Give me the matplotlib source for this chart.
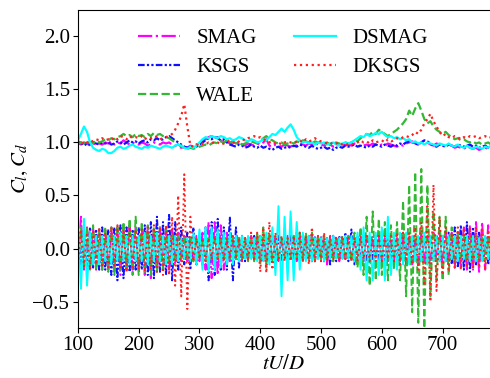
import numpy as np
import matplotlib
matplotlib.use("Agg")
import matplotlib.pyplot as plt

plt.rcParams["font.family"] = ["Liberation Serif", "DejaVu Serif"]
plt.rcParams["mathtext.fontset"] = "stix"

# sample times (tU/D), every 5 units
t = np.arange(100, 781, 5)

models = ["SMAG", "KSGS", "WALE", "DSMAG", "DKSGS"]

# drag coefficient Cd
cd_smag = [
    1.0, 0.98, 1.0, 0.99, 0.97, 0.98, 1.0, 0.99, 0.98, 1.0,
    0.99, 1.01, 0.98, 1.0, 0.99, 1.02, 1.0, 0.98, 1.0, 0.99,
    0.98, 1.0, 0.99, 0.97, 0.98, 1.0, 0.99, 0.98, 1.0, 0.99,
    1.0, 0.98, 0.97, 0.96, 0.95, 0.96, 0.95, 0.97, 0.96, 0.98,
    0.99, 1.01, 1.03, 1.05, 1.06, 1.04, 1.05, 1.02, 1.0, 1.01,
    0.99, 0.98, 0.99, 1.0, 0.98, 0.97, 0.99, 0.98, 0.97, 0.99,
    0.98, 1.0, 1.03, 0.97, 0.96, 0.98, 0.97, 0.96, 0.98, 0.97,
    0.96, 0.98, 0.97, 0.99, 0.98, 0.97, 0.99, 0.98, 0.97, 0.99,
    0.98, 0.97, 0.99, 0.98, 0.96, 0.97, 0.98, 0.99, 0.97, 0.98,
    0.97, 0.99, 0.98, 0.96, 0.97, 0.98, 0.97, 0.99, 0.98, 0.97,
    0.98, 0.97, 0.99, 0.98, 0.97, 0.96, 0.98, 0.97, 0.99, 1.0,
    1.01, 0.99, 0.98, 1.0, 1.02, 1.0, 0.98, 0.97, 0.99, 0.98,
    0.97, 0.96, 0.98, 0.97, 0.95, 0.96, 0.95, 0.94, 0.96, 0.95,
    0.94, 0.95, 0.93, 0.94, 0.95, 0.94, 0.95,
]
cd_ksgs = [
    0.98, 1.0, 0.97, 0.99, 0.98, 1.0, 0.99, 0.98, 1.0, 0.99,
    1.0, 0.98, 0.99, 1.01, 1.0, 0.98, 1.0, 1.02, 1.0, 1.01,
    0.99, 1.01, 1.02, 1.0, 1.03, 1.02, 1.04, 1.02, 1.03, 1.05,
    1.06, 1.04, 1.02, 1.0, 0.98, 0.96, 0.95, 0.96, 0.95, 0.96,
    0.98, 1.0, 1.02, 1.04, 1.03, 1.05, 1.04, 1.02, 1.03, 1.0,
    0.98, 0.97, 0.96, 0.98, 0.97, 0.95, 0.96, 0.98, 0.96, 0.95,
    0.97, 0.95, 0.96, 0.94, 0.93, 0.95, 0.96, 0.94, 0.95, 0.96,
    0.95, 0.97, 0.96, 0.98, 0.97, 0.96, 0.95, 0.97, 0.95, 0.94,
    0.95, 0.96, 0.94, 0.95, 0.93, 0.95, 0.96, 0.95, 0.97, 0.96,
    0.97, 0.98, 0.96, 0.97, 0.96, 0.95, 0.97, 0.96, 0.98, 0.97,
    0.96, 0.98, 0.97, 0.96, 0.98, 0.97, 0.99, 0.98, 1.0, 1.01,
    1.0, 0.99, 0.98, 1.0, 1.02, 1.01, 0.99, 0.97, 0.96, 0.98,
    0.97, 0.96, 0.98, 0.97, 0.96, 0.98, 0.97, 0.96, 0.97, 0.98,
    0.96, 0.97, 0.95, 0.96, 0.97, 0.95, 0.96,
]
cd_wale = [
    0.98, 1.0, 0.99, 1.01, 1.0, 0.99, 1.02, 1.0, 1.01, 1.03,
    1.02, 1.04, 1.03, 1.05, 1.06, 1.08, 1.06, 1.07, 1.05, 1.08,
    1.06, 1.07, 1.05, 1.08, 1.06, 1.09, 1.07, 1.08, 1.06, 1.05,
    1.04, 1.02, 1.0, 0.98, 0.96, 0.95, 0.94, 0.95, 0.94, 0.95,
    0.96, 0.97, 0.98, 0.97, 0.99, 1.0, 0.99, 1.01, 1.0, 1.02,
    1.0, 1.01, 0.99, 1.0, 0.98, 0.99, 1.0, 1.01, 1.0, 0.99,
    1.01, 1.04, 1.06, 1.03, 1.02, 1.0, 0.99, 1.0, 0.98, 0.99,
    1.0, 0.99, 1.01, 1.0, 1.02, 1.01, 1.0, 0.99, 1.01, 1.0,
    1.0, 0.99, 1.0, 0.98, 0.99, 1.0, 0.99, 0.98, 1.0, 0.99,
    1.0, 1.02, 1.01, 1.04, 1.06, 1.08, 1.07, 1.1, 1.08, 1.12,
    1.1, 1.08, 1.06, 1.08, 1.1, 1.12, 1.15, 1.18, 1.22, 1.3,
    1.25, 1.32, 1.37, 1.3, 1.22, 1.18, 1.2, 1.15, 1.12, 1.1,
    1.08, 1.1, 1.07, 1.05, 1.03, 1.04, 1.02, 1.03, 1.01, 1.0,
    1.01, 0.99, 1.0, 0.98, 0.99, 1.0, 0.98,
]
cd_dsmag = [
    1.02, 1.08, 1.15, 1.1, 1.0, 0.95, 0.93, 0.92, 0.94, 0.93,
    0.9, 0.9, 0.92, 0.95, 0.96, 0.94, 0.95, 0.97, 0.98, 0.96,
    0.95, 0.94, 0.96, 0.95, 0.97, 0.96, 0.95, 0.94, 0.96, 0.97,
    0.96, 0.95, 0.97, 0.98, 0.97, 0.95, 0.94, 0.96, 0.95, 0.97,
    1.0, 1.03, 1.05, 1.04, 1.06, 1.05, 1.04, 1.06, 1.05, 1.03,
    1.04, 1.02, 1.03, 1.05, 1.04, 1.02, 1.01, 1.03, 1.02, 1.0,
    1.01, 1.03, 1.02, 1.05, 1.08, 1.07, 1.1, 1.13, 1.1, 1.14,
    1.17, 1.12, 1.05, 1.02, 1.0, 1.01, 0.99, 1.0, 0.98, 1.0,
    0.99, 1.0, 0.98, 0.99, 1.0, 0.98, 0.97, 0.99, 1.0, 0.99,
    1.0, 1.02, 1.04, 1.06, 1.05, 1.08, 1.06, 1.07, 1.09, 1.08,
    1.1, 1.07, 1.05, 1.06, 1.04, 1.05, 1.03, 1.04, 1.02, 1.03,
    1.0, 1.01, 0.99, 1.0, 0.98, 1.0, 0.99, 0.98, 0.97, 0.99,
    0.98, 0.97, 0.99, 0.97, 0.96, 0.98, 0.96, 0.95, 0.97, 0.95,
    0.94, 0.96, 0.95, 0.94, 0.96, 0.95, 0.97,
]
cd_dksgs = [
    1.0, 1.02, 0.98, 1.0, 1.02, 1.01, 1.03, 1.02, 1.04, 1.02,
    1.03, 1.02, 1.05, 1.03, 1.06, 1.05, 1.03, 1.06, 1.04, 1.05,
    1.04, 1.06, 1.03, 1.05, 1.04, 1.06, 1.05, 1.03, 1.04, 1.05,
    1.06, 1.08, 1.12, 1.18, 1.25, 1.36, 1.15, 0.97, 0.96, 0.98,
    0.97, 0.99, 0.98, 1.0, 0.99, 1.01, 1.0, 0.98, 0.99, 1.0,
    1.02, 1.0, 0.99, 1.01, 1.03, 1.02, 1.04, 1.05, 1.06, 1.04,
    1.05, 1.03, 1.02, 1.0, 1.01, 0.99, 1.0, 0.98, 1.0, 1.01,
    1.0, 0.99, 1.01, 1.02, 1.0, 1.03, 1.01, 1.02, 1.04, 1.02,
    1.01, 1.0, 0.99, 1.0, 0.98, 0.99, 1.0, 0.98, 0.97, 0.99,
    0.98, 0.99, 1.0, 1.02, 1.0, 1.01, 0.99, 1.02, 1.0, 1.01,
    1.02, 1.0, 1.03, 1.01, 1.02, 1.04, 1.03, 1.05, 1.06, 1.05,
    1.07, 1.1, 1.08, 1.12, 1.18, 1.22, 1.27, 1.2, 1.15, 1.1,
    1.06, 1.08, 1.05, 1.04, 1.06, 1.05, 1.03, 1.05, 1.04, 1.06,
    1.05, 1.06, 1.04, 1.05, 1.06, 1.04, 1.05,
]

# lift coefficient Cl, successive peaks of the shedding oscillation
cl_smag = [
    -0.2, 0.3, -0.2, 0.2, -0.18, 0.2, -0.2, 0.18, -0.2, 0.18,
    -0.2, 0.2, -0.22, 0.2, -0.25, 0.2, -0.2, 0.22, -0.2, 0.2,
    -0.22, 0.2, -0.25, 0.22, -0.28, 0.2, -0.22, 0.2, -0.2, 0.2,
    -0.2, 0.18, -0.15, 0.15, -0.12, 0.12, -0.12, 0.1, -0.12, 0.12,
    -0.12, 0.15, -0.2, 0.25, -0.28, 0.25, -0.25, 0.22, -0.2, 0.15,
    -0.12, 0.12, -0.1, 0.1, -0.12, 0.1, -0.1, 0.12, -0.1, 0.1,
    -0.12, 0.1, -0.12, 0.12, -0.1, 0.1, -0.12, 0.1, -0.1, 0.12,
    -0.1, 0.12, -0.12, 0.1, -0.12, 0.12, -0.1, 0.12, -0.12, 0.1,
    -0.1, 0.12, -0.15, 0.12, -0.12, 0.1, -0.12, 0.1, -0.1, 0.12,
    -0.12, 0.1, -0.1, 0.12, -0.12, 0.1, -0.12, 0.12, -0.1, 0.12,
    -0.12, 0.1, -0.12, 0.12, -0.12, 0.1, -0.12, 0.15, -0.15, 0.15,
    -0.15, 0.12, -0.15, 0.15, -0.12, 0.12, -0.15, 0.15, -0.12, 0.15,
    -0.15, 0.15, -0.15, 0.15, -0.18, 0.15, -0.18, 0.2, -0.2, 0.22,
    -0.2, 0.25, -0.22, 0.25, -0.2, 0.22, -0.2,
]
cl_ksgs = [
    0.15, -0.15, 0.18, -0.2, 0.2, -0.18, 0.18, -0.2, 0.2, -0.2,
    0.18, -0.25, 0.2, -0.3, 0.22, -0.28, 0.2, -0.22, 0.18, -0.2,
    0.2, -0.2, 0.22, -0.25, 0.25, -0.28, 0.3, -0.22, 0.25, -0.25,
    0.33, -0.3, 0.25, -0.2, 0.2, -0.15, 0.15, -0.2, 0.2, -0.15,
    0.1, -0.15, 0.2, -0.3, 0.25, -0.25, 0.28, -0.2, 0.2, -0.2,
    0.3, -0.3, 0.2, -0.18, 0.12, -0.12, 0.1, -0.1, 0.12, -0.1,
    0.12, -0.12, 0.1, -0.1, 0.12, -0.1, 0.12, -0.12, 0.1, -0.1,
    0.12, -0.1, 0.15, -0.12, 0.12, -0.1, 0.12, -0.12, 0.12, -0.1,
    0.12, -0.12, 0.1, -0.15, 0.12, -0.12, 0.12, -0.1, 0.15, -0.12,
    0.18, -0.15, 0.12, -0.1, 0.12, -0.12, 0.1, -0.1, 0.12, -0.1,
    0.1, -0.12, 0.1, -0.1, 0.12, -0.12, 0.1, -0.1, 0.1, -0.12,
    0.12, -0.1, 0.12, -0.12, 0.1, -0.12, 0.12, -0.1, 0.12, -0.12,
    0.12, -0.12, 0.15, -0.15, 0.2, -0.18, 0.22, -0.2, 0.25, -0.22,
    0.2, -0.15, 0.15, -0.12, 0.12, -0.15, 0.12,
]
cl_wale = [
    -0.2, 0.2, -0.18, 0.2, -0.2, 0.22, -0.2, 0.18, -0.2, 0.2,
    -0.22, 0.2, -0.25, 0.22, -0.2, 0.25, -0.22, 0.28, -0.25, 0.3,
    -0.25, 0.25, -0.22, 0.22, -0.25, 0.2, -0.22, 0.2, -0.2, 0.18,
    -0.15, 0.15, -0.12, 0.12, -0.1, 0.12, -0.1, 0.1, -0.12, 0.1,
    -0.1, 0.1, -0.12, 0.1, -0.1, 0.12, -0.1, 0.1, -0.1, 0.1,
    -0.1, 0.1, -0.1, 0.12, -0.1, 0.1, -0.12, 0.1, -0.12, 0.15,
    -0.15, 0.2, -0.18, 0.15, -0.12, 0.12, -0.1, 0.12, -0.1, 0.1,
    -0.1, 0.12, -0.1, 0.15, -0.12, 0.15, -0.12, 0.15, -0.12, 0.12,
    -0.1, 0.12, -0.1, 0.1, -0.12, 0.1, -0.1, 0.12, -0.1, 0.12,
    -0.12, 0.15, -0.18, 0.2, -0.25, 0.3, -0.35, 0.35, -0.3, 0.28,
    -0.25, 0.25, -0.3, 0.22, -0.2, 0.25, -0.3, 0.45, -0.45, 0.6,
    -0.6, 0.72, -0.7, 0.75, -0.75, 0.6, -0.45, 0.35, -0.3, 0.3,
    -0.3, 0.3, -0.25, 0.2, -0.15, 0.15, -0.12, 0.12, -0.12, 0.12,
    -0.12, 0.12, -0.1, 0.12, -0.12, 0.1, -0.12,
]
cl_dsmag = [
    0.3, -0.38, 0.28, -0.35, 0.15, -0.15, 0.12, -0.15, 0.12, -0.12,
    0.12, -0.15, 0.12, -0.12, 0.15, -0.12, 0.12, -0.15, 0.12, -0.12,
    0.12, -0.12, 0.15, -0.15, 0.12, -0.12, 0.15, -0.12, 0.12, -0.15,
    0.12, -0.15, 0.12, -0.12, 0.1, -0.1, 0.1, -0.12, 0.15, -0.15,
    0.18, -0.2, 0.2, -0.22, 0.2, -0.2, 0.18, -0.18, 0.15, -0.15,
    0.15, -0.15, 0.12, -0.12, 0.12, -0.1, 0.12, -0.1, 0.1, -0.12,
    0.12, -0.12, 0.15, -0.15, 0.2, -0.25, 0.4, -0.45, 0.3, -0.3,
    0.35, -0.3, 0.25, -0.2, 0.15, -0.12, 0.12, -0.12, 0.1, -0.1,
    0.1, -0.12, 0.1, -0.1, 0.12, -0.1, 0.1, -0.1, 0.12, -0.1,
    0.12, -0.12, 0.15, -0.2, 0.2, -0.3, 0.15, -0.3, 0.15, -0.25,
    0.2, -0.3, 0.3, -0.25, 0.15, -0.2, 0.15, -0.15, 0.15, -0.15,
    0.12, -0.12, 0.12, -0.12, 0.15, -0.15, 0.12, -0.12, 0.12, -0.12,
    0.12, -0.12, 0.12, -0.1, 0.12, -0.12, 0.12, -0.1, 0.12, -0.12,
    0.12, -0.12, 0.1, -0.12, 0.12, -0.1, 0.12,
]
cl_dksgs = [
    -0.15, 0.18, -0.17, 0.15, -0.2, 0.18, -0.15, 0.2, -0.18, 0.15,
    -0.2, 0.2, -0.18, 0.22, -0.2, 0.18, -0.22, 0.2, -0.2, 0.18,
    -0.2, 0.18, -0.22, 0.2, -0.2, 0.22, -0.22, 0.2, -0.25, 0.22,
    -0.25, 0.3, -0.35, 0.5, -0.45, 0.7, -0.57, 0.3, -0.12, 0.1,
    -0.1, 0.1, -0.12, 0.1, -0.1, 0.12, -0.1, 0.1, -0.12, 0.1,
    -0.1, 0.12, -0.1, 0.1, -0.12, 0.1, -0.12, 0.15, -0.12, 0.15,
    -0.22, 0.2, -0.23, 0.25, -0.2, 0.15, -0.12, 0.12, -0.12, 0.1,
    -0.12, 0.12, -0.1, 0.15, -0.12, 0.12, -0.15, 0.2, -0.12, 0.12,
    -0.12, 0.15, -0.12, 0.12, -0.1, 0.12, -0.12, 0.12, -0.1, 0.1,
    -0.12, 0.1, -0.12, 0.12, -0.1, 0.12, -0.12, 0.1, -0.12, 0.12,
    -0.12, 0.12, -0.1, 0.12, -0.12, 0.15, -0.15, 0.15, -0.12, 0.15,
    -0.15, 0.2, -0.2, 0.25, -0.35, 0.4, -0.5, 0.6, -0.4, 0.3,
    -0.25, 0.2, -0.2, 0.15, -0.18, 0.2, -0.2, 0.2, -0.18, 0.2,
    -0.2, 0.2, -0.18, 0.2, -0.2, 0.18, -0.2,
]

cd_all = [cd_smag, cd_ksgs, cd_wale, cd_dsmag, cd_dksgs]
cl_all = [cl_smag, cl_ksgs, cl_wale, cl_dsmag, cl_dksgs]
colors = ["#ff00ff", "#1010ff", "#33b833", "#00ffff", "#ff2020"]
styles = ["-.", (0, (3, 1, 1, 1, 1, 1)), "--", "-", ":"]

fig = plt.figure(figsize=(4.9, 3.78), dpi=100)
ax = fig.add_axes([0.159, 0.132, 0.841, 0.842])

for name, cd, cl, c, ls in zip(models, cd_all, cl_all, colors, styles):
    ax.plot(t, cl, color=c, ls=ls, lw=1.4)
    ax.plot(t, cd, color=c, ls=ls, lw=1.6, label=name)

ax.set_xlim(100, 778)
ax.set_ylim(-0.75, 2.25)
ax.set_xticks([100, 200, 300, 400, 500, 600, 700])
ax.set_yticks([-0.5, 0.0, 0.5, 1.0, 1.5, 2.0])
ax.tick_params(labelsize=15, pad=2)
ax.spines["right"].set_visible(False)
ax.set_xlabel("$tU/D$", fontsize=15, labelpad=0)
ax.set_ylabel("$C_l, C_d$", fontsize=15, labelpad=2)

leg = ax.legend(loc="upper left", bbox_to_anchor=(0.1, 1.0), ncol=2,
                frameon=False, fontsize=15, handlelength=2.0,
                handletextpad=0.8, columnspacing=1.8, labelspacing=0.45)

fig.savefig("out.png", dpi=100)
